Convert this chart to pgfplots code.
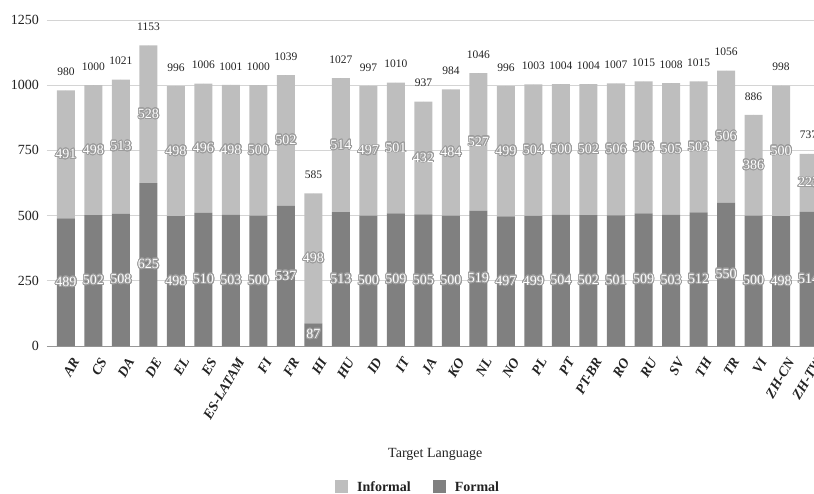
\documentclass[border=0pt]{standalone}
\usepackage{pgfplots}
\pgfplotsset{compat=1.18}
\usepackage{pgfplotstable}
\usepackage{fontspec}
\setmainfont{Liberation Serif}
\usepackage[copies]{contour}
\contourlength{0.9pt}
\contournumber{24}

\definecolor{formalgray}{HTML}{808080}
\definecolor{informalgray}{HTML}{BEBEBE}
\definecolor{gridgray}{HTML}{D4D4D4}
\definecolor{basegray}{HTML}{989898}
\definecolor{halogray}{HTML}{9C9C9C}
\definecolor{inktext}{HTML}{222222}

% Formal / informal segment counts per target language
\pgfplotstableread{
idx lang     formal informal total
0   AR       489    491      980
1   CS       502    498      1000
2   DA       508    513      1021
3   DE       625    528      1153
4   EL       498    498      996
5   ES       510    496      1006
6   ES-LATAM 503    498      1001
7   FI       500    500      1000
8   FR       537    502      1039
9   HI       87     498      585
10  HU       513    514      1027
11  ID       500    497      997
12  IT       509    501      1010
13  JA       505    432      937
14  KO       500    484      984
15  NL       519    527      1046
16  NO       497    499      996
17  PL       499    504      1003
18  PT       504    500      1004
19  PT-BR    502    502      1004
20  RO       501    506      1007
21  RU       509    506      1015
22  SV       503    505      1008
23  TH       512    503      1015
24  TR       550    506      1056
25  VI       500    386      886
26  ZH-CN    498    500      998
27  ZH-TW    514    223      737
}\langdata

\pgfplotsset{
  langaxis/.style={
    scale only axis,
    width=778pt, height=326pt,
    xmin=-0.69, xmax=27.6,
    ymin=0, ymax=1250,
  },
  labelplot/.style={only marks, mark=*, mark size=0pt,
    mark options={draw=none, fill=none}},
}

\begin{document}
\begin{tikzpicture}
% the page: the chart is cut off at its right-hand side
\path[use as bounding box] (-47pt,-147pt) rectangle (767pt,346pt);

% stacked bars, grid, ticks, axis title and legend
\begin{axis}[langaxis,
  ybar stacked, bar width=18pt,
  ytick={0,250,...,1250},
  ymajorgrids,
  grid style={gridgray, line width=0.8pt},
  extra y ticks={0}, extra y tick labels={},
  extra y tick style={grid style={basegray, line width=1pt}},
  axis line style={draw=none},
  major tick length=0pt,
  xtick={0,...,27},
  xticklabels={AR,CS,DA,DE,EL,ES,ES-LATAM,FI,FR,HI,HU,ID,IT,JA,KO,NL,NO,PL,PT,PT-BR,RO,RU,SV,TH,TR,VI,ZH-CN,ZH-TW},
  xticklabel style={xshift=10pt, yshift=-13pt, rotate=60, anchor=east,
    inner sep=0pt, font=\fontsize{14}{16}\selectfont\bfseries\itshape,
    text=inktext},
  yticklabel style={font=\fontsize{14}{16}\selectfont, text=inktext,
    inner sep=0pt, xshift=-8pt},
  /pgf/number format/assume math mode=true,
  /pgf/number format/1000 sep={},
  xlabel={Target Language},
  xlabel style={at={(axis description cs:0.499,-0.334)}, anchor=center,
    font=\fontsize{14}{16}\selectfont, text=inktext},
  legend style={at={(axis description cs:0.477,-0.4325)}, anchor=center,
    draw=none, fill=none, legend columns=2,
    font=\fontsize{14}{16}\selectfont\bfseries, text=inktext,
    /tikz/every odd column/.append style={column sep=7pt},
    /tikz/every even column/.append style={column sep=20pt}},
  legend image code/.code={\fill[#1] (0pt,-6.5pt) rectangle (13pt,6.5pt);},
  reverse legend,
]
\addplot[fill=formalgray, draw=none] table[x=idx, y=formal]{\langdata};
\addplot[fill=informalgray, draw=none] table[x=idx, y=informal]{\langdata};
\legend{Formal, Informal}
\end{axis}

% value labels: segment counts centred in each segment, totals above the bars
\begin{axis}[langaxis, hide axis, clip=false, point meta=explicit symbolic]
\addplot[labelplot,
  nodes near coords={\contour{halogray}{\pgfplotspointmeta}},
  every node near coord/.append style={anchor=center, text=white,
    font=\fontsize{14}{16}\selectfont}]
  table[x=idx, y expr=\thisrow{formal}/2, meta=formal]{\langdata};
\addplot[labelplot,
  nodes near coords={\contour{halogray}{\pgfplotspointmeta}},
  every node near coord/.append style={anchor=center, text=white,
    font=\fontsize{14}{16}\selectfont}]
  table[x=idx, y expr=\thisrow{formal}+\thisrow{informal}/2, meta=informal]{\langdata};
\addplot[labelplot,
  nodes near coords={\pgfplotspointmeta},
  every node near coord/.append style={anchor=south, inner sep=0pt,
    yshift=14.6pt, text=inktext, font=\fontsize{11.5}{13}\selectfont}]
  table[x=idx, y=total, meta=total]{\langdata};
\end{axis}
\end{tikzpicture}
\end{document}
